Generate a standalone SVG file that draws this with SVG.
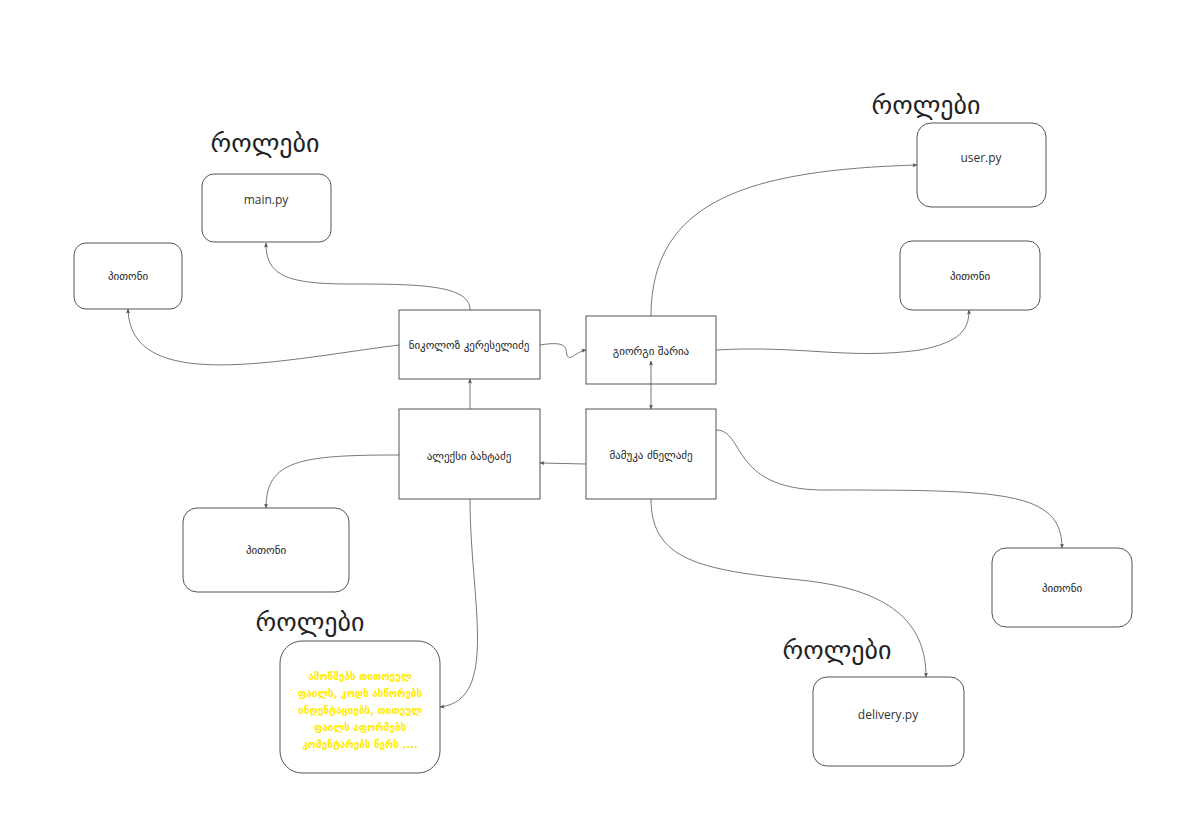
<svg xmlns="http://www.w3.org/2000/svg" width="1187" height="817" viewBox="0 0 1187 817">
<defs>
<marker id="ah" viewBox="0 0 10 10" refX="9" refY="5" markerWidth="5" markerHeight="5" orient="auto-start-reverse" markerUnits="userSpaceOnUse">
<path d="M0 1 L10 5 L0 9 L2 5 Z" fill="#555"/>
</marker>
<style>
.box{fill:#fff;stroke:#555;stroke-width:1}
.rbox{fill:#fff;stroke:#555;stroke-width:1}
.lbl{font-family:"DejaVu Sans",sans-serif;font-size:11px;fill:#222;text-anchor:middle;dominant-baseline:middle}
.py{font-family:"Open Sans","DejaVu Sans",sans-serif;font-size:12px;fill:#333;text-anchor:middle;dominant-baseline:middle}
.title{font-family:"DejaVu Sans ExtraLight","DejaVu Sans",sans-serif;font-size:26px;fill:#222;text-anchor:middle}
.yel{font-family:"DejaVu Sans",sans-serif;font-size:10px;fill:#ffec00;text-anchor:middle;font-weight:bold}
.c{fill:none;stroke:#555;stroke-width:0.8;marker-end:url(#ah)}
</style>
</defs>
<rect width="1187" height="817" fill="#fff"/>
<g id="t1"><text class="title" x="265" y="152">როლები</text></g>
<g id="t2"><text class="title" x="926" y="114">როლები</text></g>
<g id="t3"><text class="title" x="310" y="631">როლები</text></g>
<g id="t4"><text class="title" x="837" y="659">როლები</text></g>
<g id="nikoloz"><rect class="box" x="399" y="310" width="141" height="69"/><text class="lbl" x="469" y="346">ნიკოლოზ კერესელიძე</text></g>
<g id="giorgi"><rect class="box" x="586" y="316" width="130" height="68"/><text class="lbl" x="651" y="352">გიორგი შარია</text></g>
<g id="aleksi"><rect class="box" x="399" y="409" width="141" height="90"/><text class="lbl" x="469" y="457">ალექსი ბახტაძე</text></g>
<g id="mamuka"><rect class="box" x="586" y="409" width="130" height="90"/><text class="lbl" x="651" y="456">მამუკა ძნელაძე</text></g>
<g id="mainpy"><rect class="rbox" x="202" y="174" width="129" height="68" rx="12"/><text class="py" x="266" y="201">main.py</text></g>
<g id="python1"><rect class="rbox" x="74" y="243" width="108" height="66" rx="12"/><text class="lbl" x="128" y="277">პითონი</text></g>
<g id="userpy"><rect class="rbox" x="917" y="123" width="129" height="84" rx="14"/><text class="py" x="981" y="159">user.py</text></g>
<g id="python2"><rect class="rbox" x="900" y="241" width="140" height="69" rx="12"/><text class="lbl" x="970" y="277">პითონი</text></g>
<g id="python3"><rect class="rbox" x="183" y="508" width="166" height="84" rx="14"/><text class="lbl" x="266" y="551">პითონი</text></g>
<g id="roles"><rect class="rbox" x="280" y="641" width="160" height="132" rx="22"/>
<text class="yel" x="360" y="680">ამოწმებს თითოეულ</text>
<text class="yel" x="360" y="697">ფაილს, კოდს ასწორებს</text>
<text class="yel" x="360" y="714">ინდენტაციებს, თითეულ</text>
<text class="yel" x="360" y="731">ფაილს აფორმებს</text>
<text class="yel" x="360" y="748">კომენტარებს წერს ....</text>
</g>
<g id="python4"><rect class="rbox" x="992" y="548" width="140" height="79" rx="14"/><text class="lbl" x="1062" y="589">პითონი</text></g>
<g id="deliverypy"><rect class="rbox" x="813" y="677" width="151" height="89" rx="14"/><text class="py" x="888" y="716">delivery.py</text></g>
<g id="connectors">
<path class="c" d="M470 310 C470 285 420 284 350 284 C285 284 266 275 266 243"/>
<path class="c" d="M399 345 C280 360 130 395 128 309"/>
<path class="c" d="M540 345 C570 340 565 350 567 355 C570 362 575 352 586 350"/>
<path class="c" d="M651 316 C651 200 750 170 917 165"/>
<path class="c" d="M716 350 C800 345 850 360 920 350 C960 342 969 330 969 310"/>
<path class="c" d="M651 361 L651 409" style="marker-start:url(#ah)"/>
<path class="c" d="M586 464 L540 463"/>
<path class="c" d="M470 409 L470 379"/>
<path class="c" d="M399 455 C300 455 266 460 266 508"/>
<path class="c" d="M470 499 C470 600 500 700 440 707"/>
<path class="c" d="M716 430 C745 430 730 488 820 490 C1000 490 1062 490 1062 548"/>
<path class="c" d="M651 499 C651 560 700 570 800 580 C900 590 926 630 926 677"/>
</g>
</svg>
